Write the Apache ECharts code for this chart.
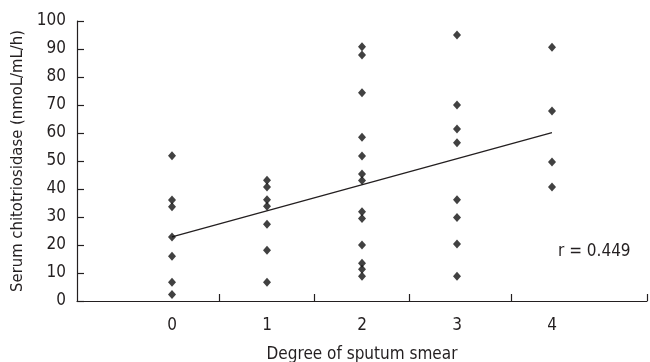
<!DOCTYPE html>
<html>
<head>
<meta charset="utf-8">
<script src="https://cdn.jsdelivr.net/npm/echarts@6/dist/echarts.min.js"></script>
<style>html,body{margin:0;padding:0;background:#fff}#c{width:650px;height:362px}</style>
</head>
<body>
<div id="c"></div>
<script>
const degreeCategories = [0, 1, 2, 3, 4];
const yTicks = [0, 10, 20, 30, 40, 50, 60, 70, 80, 90, 100];
const degree0 = [51.9, 36.1, 33.7, 22.9, 16.0, 6.7, 2.3];
const degree1 = [43.1, 40.7, 36.2, 33.8, 27.4, 18.1, 6.7];
const degree2 = [90.8, 87.9, 74.4, 58.5, 51.8, 45.4, 43.0, 31.9, 29.5, 20.0, 13.5, 11.3, 8.8];
const degree3 = [95.0, 70.0, 61.4, 56.5, 36.2, 29.8, 20.4, 8.8];
const degree4 = [90.6, 67.9, 49.6, 40.7];
const fitX = [0, 4];
const fitY = [22.9, 60.1];
const rLabel = 'r = 0.449';
const xTitle = 'Degree of sputum smear';
const yTitle = 'Serum chitotriosidase (nmoL/mL/h)';

const groups = [degree0, degree1, degree2, degree3, degree4];
const points = [];
groups.forEach((arr, i) => arr.forEach(v => points.push([degreeCategories[i], v])));
const fitLine = fitX.map((x, i) => [x, fitY[i]]);

const FONT = '"Liberation Sans Narrow", "DejaVu Sans Condensed", "Liberation Sans", sans-serif';
const chart = echarts.init(document.getElementById('c'), null, { renderer: 'canvas' });
chart.setOption({
  animation: false,
  backgroundColor: '#fff',
  grid: { left: 77, right: 3, top: 21, bottom: 61, containLabel: false, outerBoundsMode: 'none' },
  xAxis: {
    type: 'value', min: -1, max: 5,
    name: xTitle, nameLocation: 'middle', nameGap: 45,
    nameTextStyle: { fontFamily: FONT, fontSize: 17, color: '#231f20' },
    axisLine: { show: true, onZero: false, lineStyle: { color: '#231f20', width: 1.2 } },
    axisTick: { show: true, inside: true, length: 7, customValues: [0.5, 1.5, 2.5, 3.57, 5], lineStyle: { color: '#231f20', width: 1.2 } },
    axisLabel: { customValues: degreeCategories, fontFamily: FONT, fontSize: 17, color: '#231f20', margin: 16 },
    splitLine: { show: false }
  },
  yAxis: {
    type: 'value', min: 0, max: 100, interval: 10,
    name: yTitle, nameLocation: 'middle', nameGap: 45,
    nameTextStyle: { fontFamily: FONT, fontSize: 16.5, color: '#231f20' },
    axisLine: { show: true, onZero: false, lineStyle: { color: '#231f20', width: 1.2 } },
    axisTick: { show: true, inside: true, length: 7, lineStyle: { color: '#231f20', width: 1.2 } },
    axisLabel: { customValues: yTicks, fontFamily: FONT, fontSize: 17, color: '#231f20', margin: 11 },
    splitLine: { show: false }
  },
  graphic: [{
    type: 'text', left: 558, top: 243,
    style: { text: rLabel, font: '17px ' + FONT, fill: '#231f20' }
  }],
  series: [
    {
      type: 'line', data: fitLine, symbol: 'none',
      lineStyle: { color: '#231f20', width: 1.3 }, z: 1
    },
    {
      type: 'scatter', data: points, symbol: 'diamond', symbolSize: [8, 9],
      itemStyle: { color: '#111' }, z: 2
    }
  ]
});
</script>
</body>
</html>
